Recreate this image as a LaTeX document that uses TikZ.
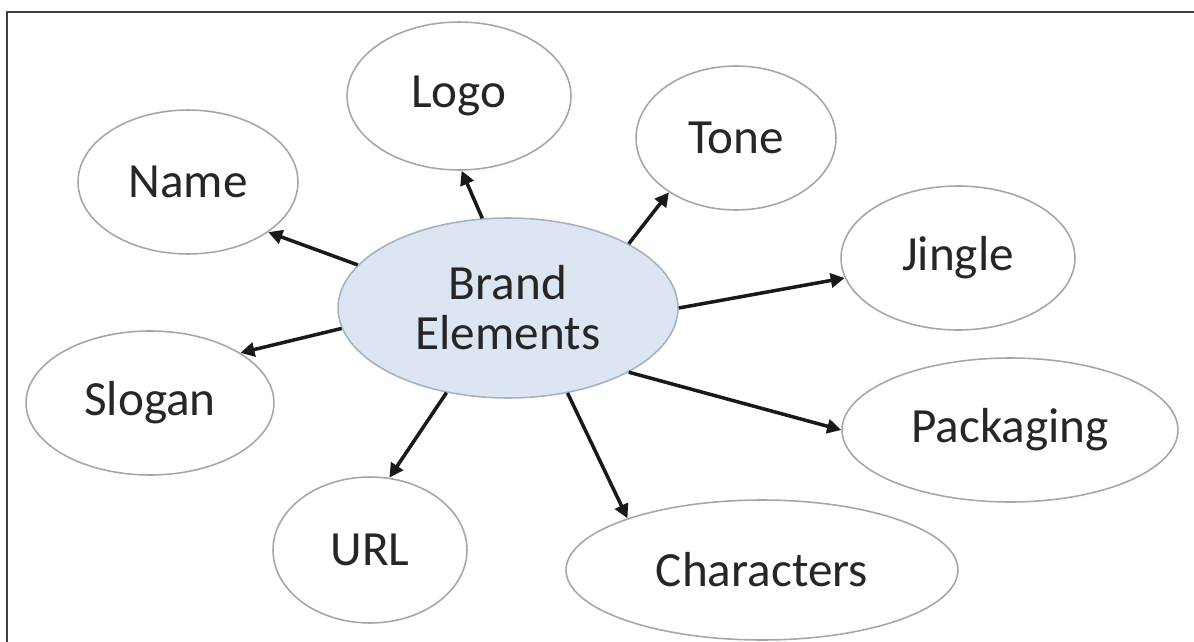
\documentclass[tikz,border=0pt]{standalone}
\usepackage{fontspec}
\setmainfont{Carlito}
\usetikzlibrary{shapes.geometric,arrows.meta}

\definecolor{hubfill}{HTML}{DCE6F2}
\definecolor{hubline}{HTML}{A3B3C4}
\definecolor{ringline}{HTML}{A6A6A6}
\definecolor{inktext}{HTML}{262626}

\begin{document}
\begin{tikzpicture}[x=0.02cm,y=-0.02cm,
    bubble/.style={ellipse, draw=ringline, line width=0.9pt, inner sep=0pt,
        text=inktext, font=\fontsize{28}{28.5}\selectfont},
    hub/.style={bubble, draw=hubline, fill=hubfill, align=center},
    spoke/.style={line width=2pt, black!90, -{Triangle[length=8pt,width=8pt]}}]
    \useasboundingbox (0,0) rectangle (1194,642);

    % Cerceve (sadece sol ve ust)
    \draw[line width=1.5pt, black!75] (7,642) -- (7,12) -- (1194,12);

    % Merkez
    \node[hub, minimum width=6.8cm, minimum height=3.6cm] (brand) at (508,308) {Brand\\Elements};

    % Cevredeki elipsler
    \node[bubble, minimum width=4.48cm, minimum height=2.96cm] (logo) at (459,96) {Logo};
    \node[bubble, minimum width=4.4cm, minimum height=2.88cm] (name) at (188,182) {Name};
    \node[bubble, minimum width=4cm, minimum height=2.88cm] (tone) at (736,138) {Tone};
    \node[bubble, minimum width=4.68cm, minimum height=2.88cm] (jingle) at (958,258) {Jingle};
    \node[bubble, minimum width=4.96cm, minimum height=2.88cm] (slogan) at (150,403) {Slogan};
    \node[bubble, minimum width=6.72cm, minimum height=2.88cm] (packaging) at (1010,430) {Packaging};
    \node[bubble, minimum width=3.88cm, minimum height=2.92cm] (url) at (370,550) {URL};
    \node[bubble, minimum width=7.84cm, minimum height=2.8cm] (characters) at (762,570) {Characters};

    % Oklar
    \draw[spoke] (brand.164.5) -- (name.-32);
    \draw[spoke] (brand.106) -- (logo.272);
    \draw[spoke] (brand.28.6) -- (tone.219);
    \draw[spoke] (brand.0) -- (jingle.190);
    \draw[spoke] (brand.187) -- (slogan.29.5);
    \draw[spoke] (brand.-28) -- (packaging.180);
    \draw[spoke] (brand.-126) -- (url.75);
    \draw[spoke] (brand.-55.4) -- (characters.159);
\end{tikzpicture}
\end{document}
